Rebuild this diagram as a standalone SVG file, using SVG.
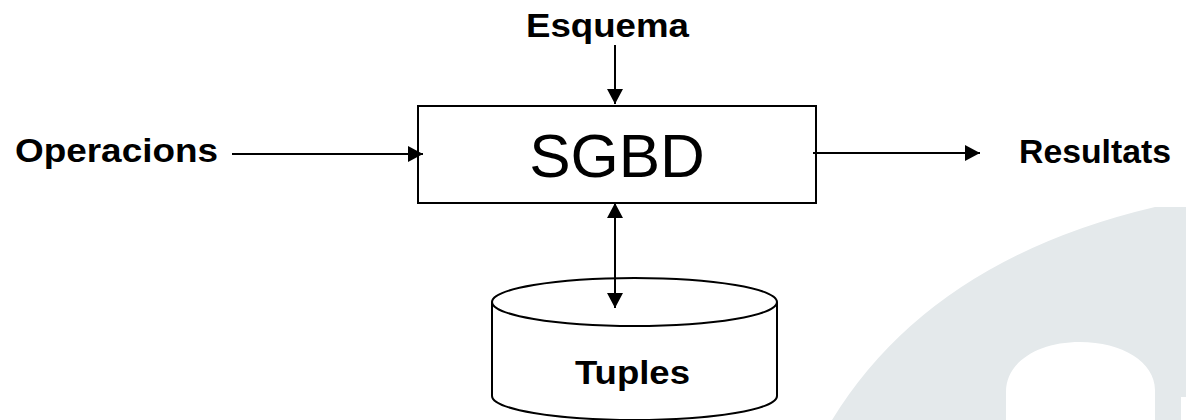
<svg xmlns="http://www.w3.org/2000/svg" width="1186" height="420" viewBox="0 0 1186 420">
<style>
.lbl{font-family:"Liberation Sans",Arial,sans-serif;font-weight:bold;font-size:32.5px;fill:#000}
.big{font-family:"Liberation Sans",Arial,sans-serif;font-size:62px;fill:#000}
.shape{fill:#fff;stroke:#000;stroke-width:2}
.conn{stroke:#000;stroke-width:2;fill:none}
</style>
<defs>
<marker id="ah" markerUnits="userSpaceOnUse" markerWidth="16" markerHeight="16" refX="15" refY="8" orient="auto-start-reverse" viewBox="0 0 16 16">
<path d="M0,0 L15,8 L0,16 Z" fill="#000"/>
</marker>
</defs>
<rect width="1186" height="420" fill="#fff"/>
<path id="bg-shape" d="M832 420 Q930 260 1155 207 L1186 207 L1186 397 L1181 397 L1181 420 L1155 420 L1155 390 C1155 362 1122 342 1080 342 C1038 342 1006 362 1006 392 L1006 420 Z" fill="#E4E9EB"/>
<g id="node-esquema"><text class="lbl" x="607.5" y="36.5" text-anchor="middle" textLength="163" lengthAdjust="spacingAndGlyphs">Esquema</text></g>
<g id="node-operacions"><text class="lbl" x="15" y="162" textLength="203" lengthAdjust="spacingAndGlyphs">Operacions</text></g>
<g id="node-resultats"><text class="lbl" x="1019" y="163" textLength="152" lengthAdjust="spacingAndGlyphs">Resultats</text></g>
<g id="node-sgbd">
<rect class="shape" x="418" y="106" width="398" height="97"/>
<text class="big" x="617" y="177" text-anchor="middle">SGBD</text>
</g>
<g id="node-tuples">
<path class="shape" d="M492 302 L492 396 A142.5 24 0 0 0 777 396 L777 302"/>
<ellipse class="shape" cx="634.5" cy="302" rx="142.5" ry="24"/>
<text class="lbl" x="632.5" y="384" text-anchor="middle" textLength="115" lengthAdjust="spacingAndGlyphs">Tuples</text>
</g>
<g id="connectors">
<line class="conn" x1="615" y1="45" x2="615" y2="104" marker-end="url(#ah)"/>
<line class="conn" x1="232" y1="154" x2="423" y2="154" marker-end="url(#ah)"/>
<line class="conn" x1="813" y1="153" x2="980" y2="153" marker-end="url(#ah)"/>
<line class="conn" x1="615" y1="203" x2="615" y2="308" marker-start="url(#ah)" marker-end="url(#ah)"/>
</g>
</svg>
